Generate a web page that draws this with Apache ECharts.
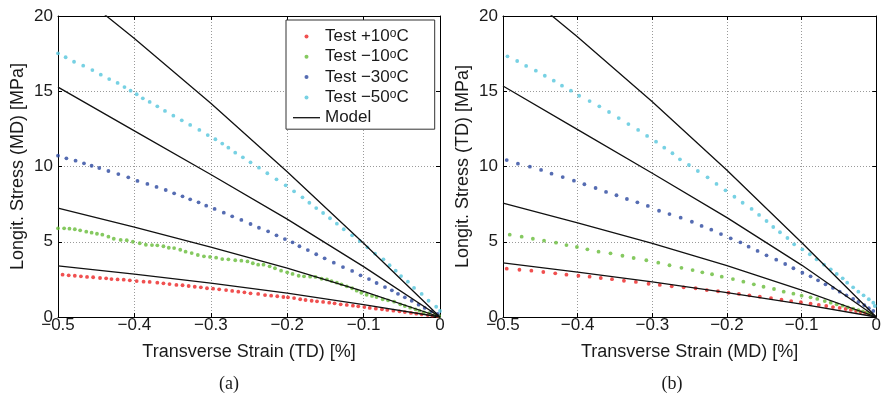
<!DOCTYPE html>
<html>
<head>
<meta charset="utf-8">
<script src="https://cdn.jsdelivr.net/npm/echarts@6/dist/echarts.min.js"></script>
<style>
  html, body { margin: 0; padding: 0; background: #fff; }
  #chart { width: 884px; height: 398px; }
</style>
</head>
<body>
<div id="chart"></div>
<script>
// Tick labels
const xTickLabels = ['\u22120.5', '\u22120.4', '\u22120.3', '\u22120.2', '\u22120.1', '0'];
const yTickLabels = ['0', '5', '10', '15', '20'];

// Series names and colours
const seriesNames = ['Test +10\u00baC', 'Test \u221210\u00baC', 'Test \u221230\u00baC', 'Test \u221250\u00baC', 'Model'];
const testColors = ['#ec2424', '#66bb38', '#2a479f', '#55c6dc'];

// ---- panel (a): transverse strain (TD) vs longit. stress (MD) ----
const aRed = [[-0.494,2.81],[-0.486,2.77],[-0.478,2.74],[-0.470,2.70],[-0.462,2.66],[-0.454,2.64],[-0.445,2.59],[-0.437,2.57],[-0.430,2.52],[-0.422,2.50],[-0.414,2.48],[-0.406,2.44],[-0.397,2.39],[-0.388,2.35],[-0.380,2.33],[-0.370,2.28],[-0.362,2.24],[-0.354,2.19],[-0.345,2.13],[-0.337,2.11],[-0.329,2.06],[-0.321,2.01],[-0.313,1.97],[-0.305,1.91],[-0.297,1.88],[-0.289,1.84],[-0.280,1.79],[-0.272,1.73],[-0.264,1.68],[-0.256,1.64],[-0.248,1.57],[-0.238,1.53],[-0.229,1.46],[-0.221,1.42],[-0.213,1.38],[-0.205,1.33],[-0.199,1.31],[-0.191,1.26],[-0.183,1.18],[-0.176,1.13],[-0.168,1.08],[-0.161,1.04],[-0.153,1.00],[-0.145,0.95],[-0.138,0.91],[-0.130,0.84],[-0.122,0.80],[-0.114,0.75],[-0.107,0.71],[-0.099,0.66],[-0.092,0.60],[-0.084,0.55],[-0.076,0.51],[-0.069,0.47],[-0.061,0.42],[-0.053,0.38],[-0.046,0.33],[-0.038,0.27],[-0.031,0.22],[-0.024,0.18],[-0.016,0.13],[-0.010,0.09],[-0.003,0.05]];
const aGreen = [[-0.500,5.89],[-0.492,5.89],[-0.485,5.87],[-0.478,5.83],[-0.471,5.76],[-0.463,5.67],[-0.456,5.60],[-0.449,5.53],[-0.442,5.47],[-0.434,5.34],[-0.427,5.20],[-0.418,5.12],[-0.410,5.10],[-0.402,5.00],[-0.393,4.90],[-0.385,4.80],[-0.377,4.78],[-0.370,4.76],[-0.362,4.70],[-0.355,4.60],[-0.348,4.58],[-0.340,4.47],[-0.333,4.34],[-0.325,4.25],[-0.317,4.12],[-0.309,4.03],[-0.301,3.99],[-0.293,3.94],[-0.285,3.85],[-0.277,3.83],[-0.268,3.77],[-0.260,3.74],[-0.252,3.69],[-0.245,3.57],[-0.238,3.48],[-0.231,3.48],[-0.223,3.37],[-0.216,3.24],[-0.208,3.08],[-0.200,2.97],[-0.193,2.86],[-0.185,2.74],[-0.178,2.70],[-0.170,2.68],[-0.163,2.66],[-0.155,2.54],[-0.148,2.50],[-0.142,2.39],[-0.135,2.28],[-0.129,2.17],[-0.122,2.04],[-0.115,1.91],[-0.109,1.75],[-0.103,1.61],[-0.096,1.48],[-0.089,1.40],[-0.083,1.33],[-0.075,1.18],[-0.068,1.11],[-0.060,1.02],[-0.052,0.84],[-0.046,0.73],[-0.039,0.62],[-0.032,0.51],[-0.027,0.42],[-0.021,0.31],[-0.014,0.25],[-0.007,0.15],[-0.001,0.07]];
const aBlue = [[-0.500,10.72],[-0.489,10.54],[-0.477,10.39],[-0.466,10.21],[-0.456,10.05],[-0.446,9.90],[-0.434,9.70],[-0.421,9.50],[-0.408,9.28],[-0.396,9.04],[-0.383,8.84],[-0.371,8.64],[-0.359,8.44],[-0.348,8.22],[-0.337,8.02],[-0.327,7.82],[-0.316,7.62],[-0.306,7.40],[-0.295,7.18],[-0.283,6.93],[-0.272,6.69],[-0.260,6.45],[-0.248,6.18],[-0.237,5.93],[-0.225,5.69],[-0.214,5.43],[-0.203,5.18],[-0.193,4.96],[-0.184,4.70],[-0.173,4.45],[-0.162,4.17],[-0.151,3.90],[-0.139,3.61],[-0.127,3.32],[-0.115,3.06],[-0.104,2.77],[-0.093,2.52],[-0.083,2.26],[-0.072,1.99],[-0.063,1.77],[-0.055,1.54],[-0.046,1.31],[-0.037,1.08],[-0.028,0.82],[-0.020,0.60],[-0.011,0.38],[-0.003,0.20]];
const aCyan = [[-0.500,17.52],[-0.490,17.26],[-0.479,16.96],[-0.467,16.70],[-0.455,16.41],[-0.444,16.10],[-0.433,15.81],[-0.422,15.55],[-0.413,15.28],[-0.405,15.04],[-0.397,14.80],[-0.389,14.53],[-0.380,14.29],[-0.370,14.00],[-0.360,13.69],[-0.349,13.38],[-0.338,13.07],[-0.327,12.76],[-0.315,12.43],[-0.304,12.09],[-0.294,11.81],[-0.285,11.52],[-0.277,11.25],[-0.268,10.92],[-0.258,10.61],[-0.248,10.28],[-0.237,9.92],[-0.226,9.55],[-0.214,9.15],[-0.202,8.75],[-0.191,8.35],[-0.180,7.95],[-0.171,7.59],[-0.162,7.24],[-0.153,6.91],[-0.144,6.56],[-0.135,6.20],[-0.126,5.83],[-0.115,5.43],[-0.105,5.05],[-0.095,4.63],[-0.085,4.21],[-0.074,3.83],[-0.066,3.44],[-0.058,3.08],[-0.051,2.72],[-0.042,2.35],[-0.034,1.93],[-0.024,1.53],[-0.015,1.08],[-0.005,0.68],[0.000,0.40]];
const aModel1 = [[-0.5,22.6],[-0.4,18.5],[-0.3,14.2],[-0.2,9.65],[-0.1,4.9],[0,0]];
const aModel2 = [[-0.5,15.27],[-0.4,12.37],[-0.3,9.47],[-0.2,6.5],[-0.1,3.35],[0,0]];
const aModel3 = [[-0.5,7.23],[-0.4,5.97],[-0.3,4.65],[-0.2,3.25],[-0.1,1.7],[0,0]];
const aModel4 = [[-0.5,3.4],[-0.4,2.85],[-0.3,2.25],[-0.2,1.58],[-0.1,0.82],[0,0]];

// ---- panel (b): transverse strain (MD) vs longit. stress (TD) ----
const bRed = [[-0.495,3.21],[-0.478,3.14],[-0.462,3.08],[-0.446,2.99],[-0.430,2.90],[-0.415,2.81],[-0.399,2.74],[-0.384,2.68],[-0.369,2.59],[-0.354,2.51],[-0.338,2.41],[-0.322,2.33],[-0.305,2.21],[-0.290,2.13],[-0.274,2.04],[-0.258,1.97],[-0.242,1.91],[-0.227,1.79],[-0.212,1.71],[-0.198,1.61],[-0.184,1.53],[-0.170,1.44],[-0.156,1.35],[-0.141,1.26],[-0.127,1.15],[-0.114,1.06],[-0.101,0.98],[-0.088,0.88],[-0.077,0.80],[-0.067,0.73],[-0.058,0.66],[-0.049,0.60],[-0.041,0.53],[-0.034,0.47],[-0.027,0.40],[-0.021,0.33],[-0.015,0.27],[-0.010,0.20]];
const bGreen = [[-0.491,5.47],[-0.475,5.34],[-0.460,5.20],[-0.445,5.07],[-0.429,4.94],[-0.415,4.78],[-0.401,4.65],[-0.387,4.50],[-0.372,4.34],[-0.356,4.23],[-0.340,4.07],[-0.325,3.92],[-0.308,3.77],[-0.292,3.61],[-0.277,3.44],[-0.261,3.27],[-0.246,3.12],[-0.233,2.97],[-0.220,2.84],[-0.207,2.68],[-0.192,2.52],[-0.178,2.35],[-0.164,2.17],[-0.151,2.01],[-0.137,1.86],[-0.124,1.68],[-0.111,1.55],[-0.100,1.42],[-0.088,1.31],[-0.079,1.20],[-0.069,1.06],[-0.061,0.95],[-0.053,0.84],[-0.045,0.75],[-0.038,0.64],[-0.031,0.55],[-0.024,0.45],[-0.018,0.38],[-0.012,0.29],[-0.007,0.20]];
const bBlue = [[-0.495,10.43],[-0.480,10.19],[-0.464,9.99],[-0.449,9.77],[-0.435,9.52],[-0.420,9.30],[-0.405,9.06],[-0.391,8.82],[-0.376,8.57],[-0.362,8.31],[-0.348,8.09],[-0.334,7.84],[-0.320,7.62],[-0.306,7.38],[-0.291,7.06],[-0.277,6.84],[-0.262,6.60],[-0.247,6.33],[-0.234,6.05],[-0.221,5.80],[-0.208,5.51],[-0.195,5.23],[-0.182,4.96],[-0.171,4.67],[-0.159,4.39],[-0.147,4.10],[-0.134,3.81],[-0.122,3.52],[-0.111,3.24],[-0.099,2.94],[-0.088,2.70],[-0.078,2.44],[-0.068,2.17],[-0.058,1.93],[-0.049,1.68],[-0.040,1.44],[-0.031,1.20],[-0.024,1.00],[-0.016,0.78],[-0.010,0.58],[-0.004,0.40]];
const bCyan = [[-0.494,17.32],[-0.481,17.01],[-0.469,16.68],[-0.456,16.37],[-0.444,16.03],[-0.432,15.70],[-0.421,15.37],[-0.409,15.04],[-0.398,14.70],[-0.384,14.35],[-0.371,14.00],[-0.358,13.62],[-0.345,13.22],[-0.332,12.82],[-0.319,12.43],[-0.307,12.03],[-0.295,11.65],[-0.284,11.25],[-0.273,10.88],[-0.263,10.48],[-0.251,10.10],[-0.239,9.70],[-0.226,9.28],[-0.214,8.84],[-0.202,8.42],[-0.190,7.99],[-0.179,7.59],[-0.167,7.18],[-0.157,6.78],[-0.147,6.38],[-0.138,5.98],[-0.129,5.63],[-0.119,5.25],[-0.110,4.83],[-0.099,4.50],[-0.089,4.17],[-0.080,3.83],[-0.070,3.48],[-0.061,3.17],[-0.053,2.86],[-0.045,2.57],[-0.039,2.28],[-0.031,1.97],[-0.024,1.68],[-0.017,1.44],[-0.010,1.18],[-0.004,0.95],[-0.002,0.73]];
const bModel1 = [[-0.5,22.7],[-0.4,18.6],[-0.3,14.3],[-0.2,9.75],[-0.1,4.95],[0,0]];
const bModel2 = [[-0.5,15.35],[-0.4,12.45],[-0.3,9.55],[-0.2,6.6],[-0.1,3.45],[0,0]];
const bModel3 = [[-0.5,7.56],[-0.4,6.26],[-0.3,4.9],[-0.2,3.42],[-0.1,1.78],[0,0]];
const bModel4 = [[-0.5,3.6],[-0.4,2.98],[-0.3,2.33],[-0.2,1.62],[-0.1,0.86],[0,0]];

const FONT = '"Liberation Sans", Arial, Helvetica, sans-serif';
const SERIF = '"Liberation Serif", "Times New Roman", serif';
const TEXT = '#1a1a1a';

function xLabel(v) {
  return xTickLabels[Math.round((v + 0.5) / 0.1)];
}
function yLabel(v) {
  return yTickLabels[Math.round(v / 5)];
}

// bottom/left axis with labels and grid, plus a mirrored top/right axis for the box
function xAxes(gridIndex, name) {
  return [{
    type: 'value', gridIndex, min: -0.5, max: 0, interval: 0.1, position: 'bottom',
    name, nameLocation: 'middle', nameGap: 26,
    nameTextStyle: { fontFamily: FONT, fontSize: 18, color: TEXT },
    axisLine: { show: true, onZero: false, lineStyle: { color: '#000', width: 1 } },
    axisTick: { show: true, inside: true, length: 4, lineStyle: { color: '#000' } },
    axisLabel: { formatter: xLabel, fontFamily: FONT, fontSize: 17, color: TEXT, margin: 0, showMinLabel: true, showMaxLabel: true },
    splitLine: { show: true, lineStyle: { color: '#9a9a9a', type: [1, 2], width: 1 } }
  }, {
    type: 'value', gridIndex, min: -0.5, max: 0, interval: 0.1, position: 'top',
    axisLine: { show: true, onZero: false, lineStyle: { color: '#000', width: 1 } },
    axisTick: { show: true, inside: true, length: 4, lineStyle: { color: '#000' } },
    axisLabel: { show: false }, splitLine: { show: false }
  }];
}
function yAxes(gridIndex, name) {
  return [{
    type: 'value', gridIndex, min: 0, max: 20, interval: 5, position: 'left',
    name, nameLocation: 'middle', nameGap: 31,
    nameTextStyle: { fontFamily: FONT, fontSize: 18, color: TEXT },
    axisLine: { show: true, onZero: false, lineStyle: { color: '#000', width: 1 } },
    axisTick: { show: true, inside: true, length: 4, lineStyle: { color: '#000' } },
    axisLabel: { formatter: yLabel, fontFamily: FONT, fontSize: 17, color: TEXT, margin: 5 },
    splitLine: { show: true, lineStyle: { color: '#9a9a9a', type: [1, 2], width: 1 } }
  }, {
    type: 'value', gridIndex, min: 0, max: 20, interval: 5, position: 'right',
    axisLine: { show: true, onZero: false, lineStyle: { color: '#000', width: 1 } },
    axisTick: { show: true, inside: true, length: 4, lineStyle: { color: '#000' } },
    axisLabel: { show: false }, splitLine: { show: false }
  }];
}

function testSeries(name, color, data, axisIndex) {
  return {
    name, type: 'scatter', data, xAxisIndex: axisIndex, yAxisIndex: axisIndex,
    symbol: 'circle', symbolSize: 3.8, itemStyle: { color }, z: 2, silent: true
  };
}
function modelSeries(data, axisIndex) {
  return {
    name: 'Model', type: 'line', data, xAxisIndex: axisIndex, yAxisIndex: axisIndex,
    symbol: 'none',
    lineStyle: { color: '#111', width: 1.3 }, itemStyle: { color: '#111' }, z: 3, silent: true
  };
}

const aTests = [aRed, aGreen, aBlue, aCyan];
const bTests = [bRed, bGreen, bBlue, bCyan];

const series = [];
aTests.forEach((d, i) => series.push(testSeries(seriesNames[i], testColors[i], d, 0)));
bTests.forEach((d, i) => series.push(testSeries(seriesNames[i], testColors[i], d, 2)));
[aModel1, aModel2, aModel3, aModel4].forEach(d => series.push(modelSeries(d, 0)));
[bModel1, bModel2, bModel3, bModel4].forEach(d => series.push(modelSeries(d, 2)));

// legend entries: dots for the tests, a plain line for the model
const legendData = seriesNames.map(name => name === 'Model'
  ? { name, icon: 'path://M0,0 L27,0 L27,1.3 L0,1.3 Z', itemStyle: { color: '#111' } }
  : { name });

const chart = echarts.init(document.getElementById('chart'), null, { renderer: 'canvas' });
chart.setOption({
  animation: false,
  backgroundColor: '#fff',
  grid: [
    { left: 58, top: 16, width: 382, height: 301 },
    { left: 503, top: 16, width: 382, height: 301 }
  ],
  xAxis: [...xAxes(0, 'Transverse Strain (TD) [%]'), ...xAxes(1, 'Transverse Strain (MD) [%]')],
  yAxis: [...yAxes(0, 'Longit. Stress (MD) [MPa]'), ...yAxes(1, 'Longit. Stress (TD) [MPa]')],
  title: [
    { text: '(a)', left: 224, top: 370, textAlign: 'center', textStyle: { fontFamily: SERIF, fontSize: 18, fontWeight: 'normal', color: TEXT } },
    { text: '(b)', left: 667, top: 370, textAlign: 'center', textStyle: { fontFamily: SERIF, fontSize: 18, fontWeight: 'normal', color: TEXT } }
  ],
  legend: {
    data: legendData,
    orient: 'vertical',
    left: 286, top: 20,
    padding: [8, 26, 3, 7],
    itemGap: 3.3,
    itemWidth: 27, itemHeight: 4,
    backgroundColor: '#fff',
    borderColor: '#333', borderWidth: 1, borderRadius: 0,
    selectedMode: false,
    z: 10,
    formatter: name => name.replace('\u00ba', '{s|o}'),
    textStyle: {
      fontFamily: FONT, fontSize: 17, color: TEXT,
      rich: { s: { fontFamily: FONT, fontSize: 12, color: TEXT, verticalAlign: 'top', lineHeight: 9 } }
    }
  },
  series
});
</script>
</body>
</html>
